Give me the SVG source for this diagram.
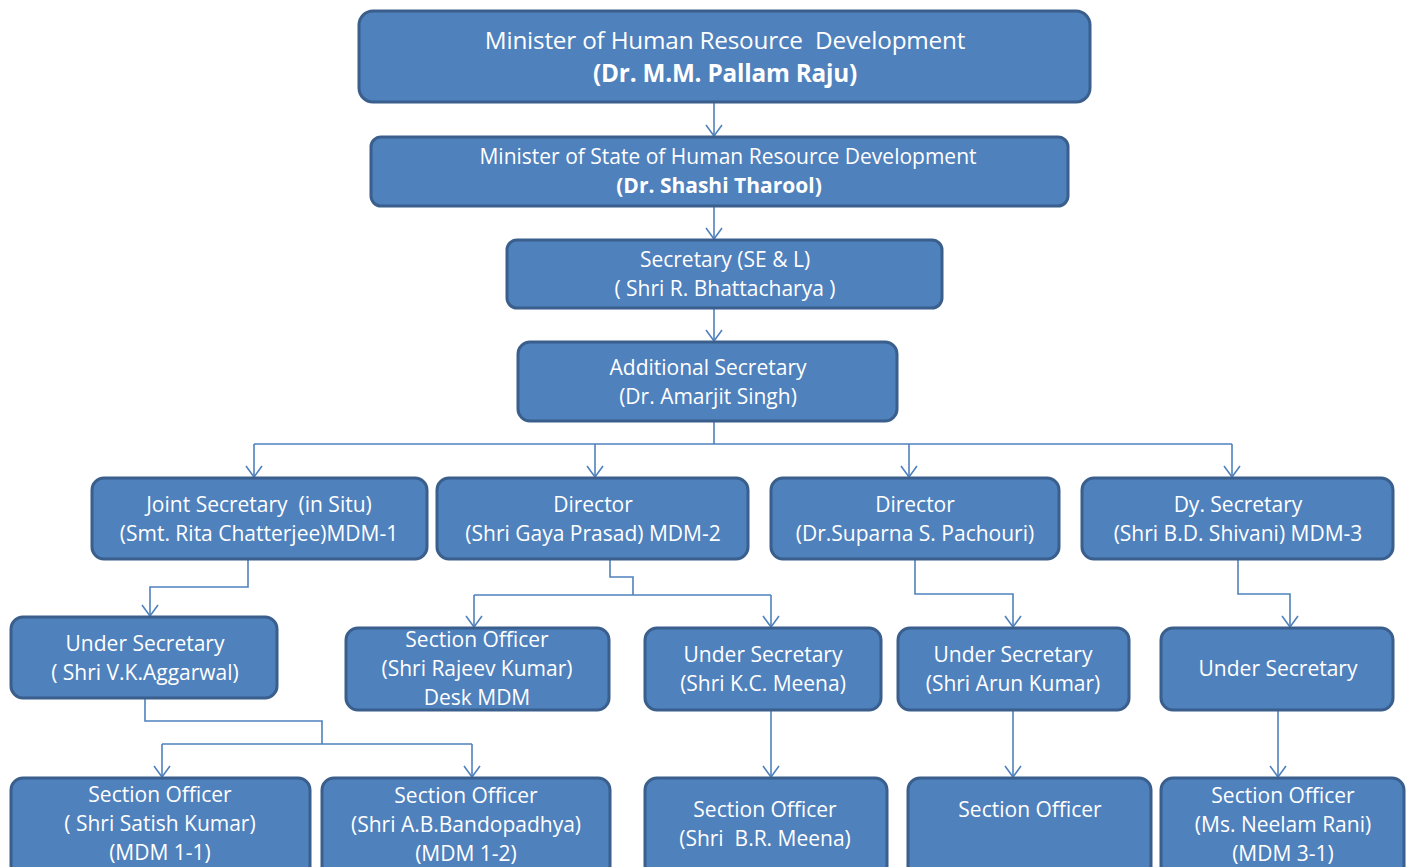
<svg xmlns="http://www.w3.org/2000/svg" width="1411" height="867" viewBox="0 0 1411 867">
<style>
.b{fill:#4F81BD;stroke:#3A5F8C;stroke-width:3}
text{font-family:"Open Sans","Liberation Sans",sans-serif;fill:#fff;text-anchor:middle;font-size:21px;white-space:pre}
.t{font-size:24.3px;letter-spacing:-0.2px}
.bd{font-weight:bold}
.c{fill:none;stroke:#4F81BD;stroke-width:1.6}
</style>
<defs>
<marker id="a" markerWidth="18" markerHeight="14" refX="9" refY="13" orient="0" markerUnits="userSpaceOnUse">
<path d="M1,2 L9,13 L17,2" fill="none" stroke="#4F81BD" stroke-width="1.6"/>
</marker>
</defs>
<rect width="1411" height="867" fill="#fff"/>
<g id="connectors" class="c">
<path class="c" d="M714,102 V136" marker-end="url(#a)"/>
<path class="c" d="M714,206 V239" marker-end="url(#a)"/>
<path class="c" d="M714,308 V341" marker-end="url(#a)"/>
<path class="c" d="M714,421 V444 M254,444 H1232"/>
<path class="c" d="M254,444 V477" marker-end="url(#a)"/>
<path class="c" d="M595,444 V477" marker-end="url(#a)"/>
<path class="c" d="M909,444 V477" marker-end="url(#a)"/>
<path class="c" d="M1232,444 V477" marker-end="url(#a)"/>
<path class="c" d="M248,559 V587 H150 V616" marker-end="url(#a)"/>
<path class="c" d="M610,559 V577 H633 V595 M474,595 H771"/>
<path class="c" d="M474,595 V627" marker-end="url(#a)"/>
<path class="c" d="M771,595 V627" marker-end="url(#a)"/>
<path class="c" d="M915,559 V594 H1013 V627" marker-end="url(#a)"/>
<path class="c" d="M1238,559 V594 H1290 V627" marker-end="url(#a)"/>
<path class="c" d="M145,698 V721 H322 V744 M162,744 H472"/>
<path class="c" d="M162,744 V777" marker-end="url(#a)"/>
<path class="c" d="M472,744 V777" marker-end="url(#a)"/>
<path class="c" d="M771,710 V777" marker-end="url(#a)"/>
<path class="c" d="M1013,710 V777" marker-end="url(#a)"/>
<path class="c" d="M1278,710 V777" marker-end="url(#a)"/>
</g>
<g id="n1"><rect class="b" x="359" y="11" width="731" height="91" rx="14"/>
<text class="t" x="725" y="49">Minister of Human Resource  Development</text>
<text class="t bd" x="725" y="82">(Dr. M.M. Pallam Raju)</text></g>
<g id="n2"><rect class="b" x="371" y="137" width="697" height="69" rx="10"/>
<text x="728" y="164">Minister of State of Human Resource Development</text>
<text class="bd" x="719" y="193">(Dr. Shashi Tharool)</text></g>
<g id="n3"><rect class="b" x="507" y="240" width="435" height="68" rx="10"/>
<text x="725" y="267">Secretary (SE &amp; L)</text>
<text x="725" y="296">( Shri R. Bhattacharya )</text></g>
<g id="n4"><rect class="b" x="518" y="342" width="379" height="79" rx="12"/>
<text x="708" y="375">Additional Secretary</text>
<text x="708" y="404">(Dr. Amarjit Singh)</text></g>
<g id="n5"><rect class="b" x="92" y="478" width="335" height="81" rx="12"/>
<text x="259" y="512">Joint Secretary  (in Situ)</text>
<text x="259" y="541">(Smt. Rita Chatterjee)MDM-1</text></g>
<g id="n6"><rect class="b" x="437" y="478" width="311" height="81" rx="12"/>
<text x="593" y="512">Director</text>
<text x="593" y="541">(Shri Gaya Prasad) MDM-2</text></g>
<g id="n7"><rect class="b" x="771" y="478" width="288" height="81" rx="12"/>
<text x="915" y="512">Director</text>
<text x="915" y="541">(Dr.Suparna S. Pachouri)</text></g>
<g id="n8"><rect class="b" x="1082" y="478" width="311" height="81" rx="12"/>
<text x="1238" y="512">Dy. Secretary</text>
<text x="1238" y="541">(Shri B.D. Shivani) MDM-3</text></g>
<g id="n9"><rect class="b" x="11" y="617" width="266" height="81" rx="12"/>
<text x="145" y="651">Under Secretary</text>
<text x="145" y="680">( Shri V.K.Aggarwal)</text></g>
<g id="n10"><rect class="b" x="346" y="628" width="263" height="82" rx="12"/>
<text x="477" y="647">Section Officer</text>
<text x="477" y="676">(Shri Rajeev Kumar)</text>
<text x="477" y="705">Desk MDM</text></g>
<g id="n11"><rect class="b" x="645" y="628" width="236" height="82" rx="12"/>
<text x="763" y="662">Under Secretary</text>
<text x="763" y="691">(Shri K.C. Meena)</text></g>
<g id="n12"><rect class="b" x="898" y="628" width="231" height="82" rx="12"/>
<text x="1013" y="662">Under Secretary</text>
<text x="1013" y="691">(Shri Arun Kumar)</text></g>
<g id="n13"><rect class="b" x="1161" y="628" width="232" height="82" rx="12"/>
<text x="1278" y="676">Under Secretary</text></g>
<g id="n14"><rect class="b" x="11" y="778" width="299" height="100" rx="12"/>
<text x="160" y="802">Section Officer</text>
<text x="160" y="831">( Shri Satish Kumar)</text>
<text x="160" y="860">(MDM 1-1)</text></g>
<g id="n15"><rect class="b" x="322" y="778" width="288" height="100" rx="12"/>
<text x="466" y="803">Section Officer</text>
<text x="466" y="832">(Shri A.B.Bandopadhya)</text>
<text x="466" y="861">(MDM 1-2)</text></g>
<g id="n16"><rect class="b" x="645" y="778" width="242" height="100" rx="12"/>
<text x="765" y="817">Section Officer</text>
<text x="765" y="846">(Shri  B.R. Meena)</text></g>
<g id="n17"><rect class="b" x="908" y="778" width="243" height="100" rx="12"/>
<text x="1030" y="817">Section Officer</text></g>
<g id="n18"><rect class="b" x="1161" y="778" width="243" height="100" rx="12"/>
<text x="1283" y="803">Section Officer</text>
<text x="1283" y="832">(Ms. Neelam Rani)</text>
<text x="1283" y="861">(MDM 3-1)</text></g>
</svg>
